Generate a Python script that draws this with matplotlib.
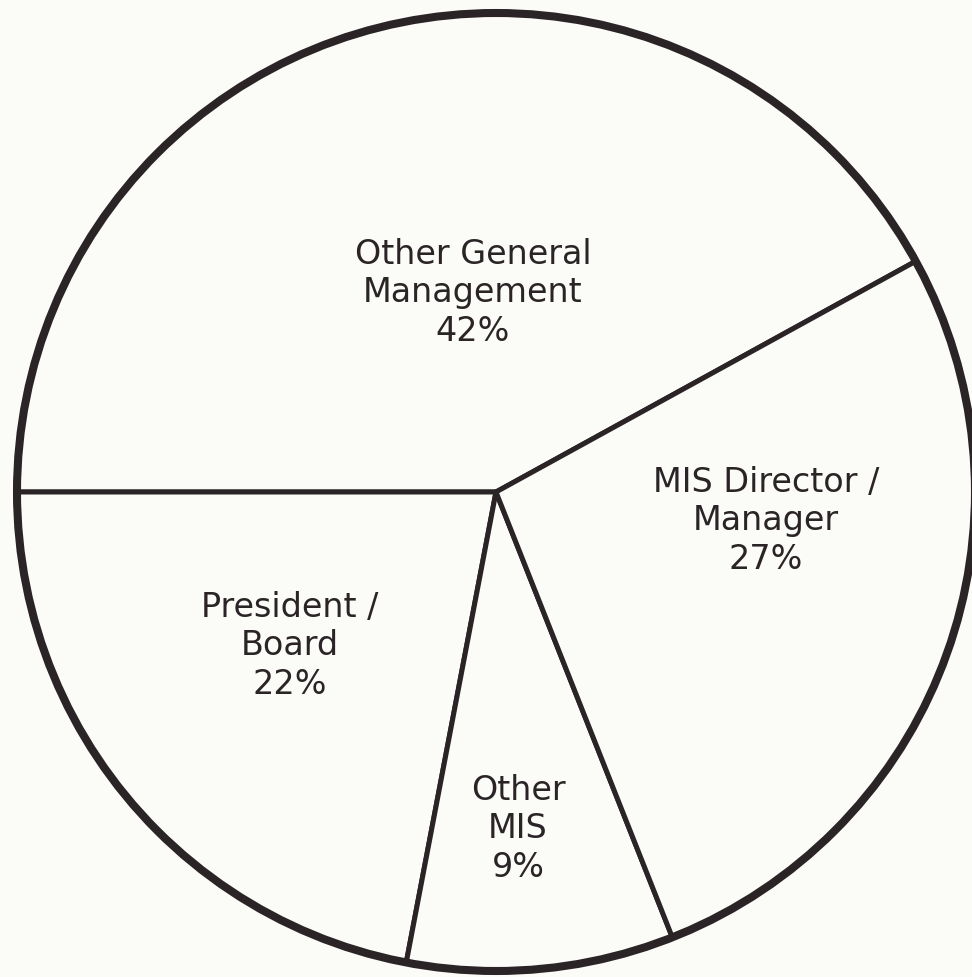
import matplotlib
matplotlib.use('Agg')
import matplotlib.pyplot as plt
from matplotlib.patches import Circle

# 数据：各类人员占比（%）
categories = ['Other General\nManagement', 'President /\nBoard', 'Other\nMIS', 'MIS Director /\nManager']
shares = [42, 22, 9, 27]

# 标签位置（数据坐标，与像素一致）
label_pos = [(473, 685), (290, 332), (518, 149), (766, 457)]

bg = '#fbfbf8'
ink = '#2a2426'

plt.rcParams['font.family'] = ['DejaVu Sans']

fig = plt.figure(figsize=(9.72, 9.78), dpi=100, facecolor=bg)
ax = fig.add_axes([0, 0, 1, 1])
ax.set_facecolor(bg)

cx, cy, r = 496, 485, 479

# 第一块与第二块的分界线放在水平左侧
start = 180 - shares[0] / sum(shares) * 360

ax.pie(shares, startangle=start, counterclock=True, center=(cx, cy), radius=r,
       colors=[bg] * len(shares),
       wedgeprops=dict(edgecolor=ink, linewidth=3.6, joinstyle='round'))

# 外圈加粗
ax.add_patch(Circle((cx, cy), r, fill=False, edgecolor=ink, linewidth=5.8))

for name, val, (x, y) in zip(categories, shares, label_pos):
    ax.text(x, y, f'{name}\n{val}%', ha='center', va='center',
            fontsize=24, color=ink, linespacing=1.2)

ax.set_xlim(0, 972)
ax.set_ylim(0, 978)
ax.set_aspect('equal')
ax.axis('off')

fig.savefig('out.png', dpi=100, facecolor=bg)
plt.close(fig)
